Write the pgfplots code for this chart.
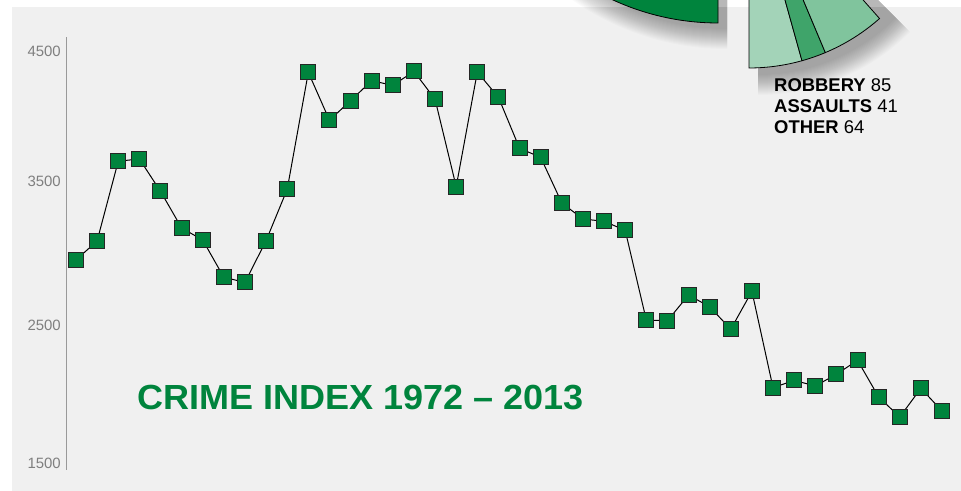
\documentclass[border=0pt]{standalone}
\usepackage{pgfplots}
\pgfplotsset{compat=1.18}
\usepackage{fontspec}
\setmainfont{Liberation Sans}
\definecolor{bg}{HTML}{F0F0F0}
\definecolor{mkgreen}{HTML}{00843D}
\definecolor{pieA}{HTML}{A3D3B8}
\definecolor{pieB}{HTML}{3FA46A}
\definecolor{pieC}{HTML}{80C49D}
\definecolor{ticktext}{HTML}{7F7F7F}
\begin{document}
\begin{tikzpicture}[x=1bp,y=1bp]
\useasboundingbox (0,0) rectangle (961,491);
\begin{scope}
\clip (0,0) rectangle (961,491);
\fill[bg] (12,0) rectangle (961,484);
% pie shadows (soft)
\foreach \k in {0,1,...,20} {
  \fill[black, opacity=0.014] (727,711) -- ++(-90:{249+\k}) arc[start angle=-90, end angle=-160, radius={249+\k}] -- cycle;
  \fill[black, opacity=0.014] (758,611) -- ++(-90:{195+\k}) arc[start angle=-90, end angle=-45, radius={195+\k}] -- cycle;
}
% pie wedges (cut off at top)
\filldraw[fill=mkgreen, draw=black, line width=0.8bp] (718,719) -- ++(-90:251) arc[start angle=-90, end angle=-160, radius=251] -- cycle;
\filldraw[fill=pieA, draw=black, line width=0.8bp] (749,620) -- ++(-90:197) arc[start angle=-90, end angle=-74.4, radius=197] -- cycle;
\filldraw[fill=pieB, draw=black, line width=0.8bp] (749,620) -- ++(-74.4:197) arc[start angle=-74.4, end angle=-67.2, radius=197] -- cycle;
\filldraw[fill=pieC, draw=black, line width=0.8bp] (749,620) -- ++(-67.2:197) arc[start angle=-67.2, end angle=-48.5, radius=197] -- cycle;
\end{scope}
\begin{axis}[
  at={(66bp,21bp)}, anchor=south west,
  scale only axis, width=895bp, height=433bp,
  xmin=1971.527, xmax=2013.9, ymin=1500, ymax=4500,
  clip=false,
  axis x line=none, axis y line*=left,
  y axis line style={draw=ticktext!80, line width=1bp, -},
  ytick={2500,3500}, major tick length=0pt,
  yticklabel style={font=\fontsize{15}{15}\selectfont, text=ticktext, inner sep=0pt, xshift=-5bp},
  /pgf/number format/1000 sep={},
  /pgf/number format/assume math mode=true,
]
\addplot[black, line width=1bp, mark=square*, mark size=7.5bp,
  mark options={fill=mkgreen, draw=black!85, line width=1bp}] coordinates {
(1972,2955) (1973,3087) (1974,3639) (1975,3655) (1976,3431) (1977,3177)
(1978,3093) (1979,2835) (1980,2800) (1981,3089) (1982,3445) (1983,4255)
(1984,3923) (1985,4059) (1986,4197) (1987,4165) (1988,4262) (1989,4068)
(1990,3463) (1991,4257) (1992,4082) (1993,3729) (1994,3666) (1995,3350)
(1996,3239) (1997,3223) (1998,3161) (1999,2539) (2000,2534) (2001,2712)
(2002,2631) (2003,2475) (2004,2738) (2005,2070) (2006,2121) (2007,2082)
(2008,2163) (2009,2260) (2010,2006) (2011,1867) (2012,2066) (2013,1909)
};
\node[anchor=east, inner sep=0pt, text=ticktext, font=\fontsize{15}{15}\selectfont]
  at ([xshift=-5bp, yshift=-14bp]axis cs:1971.527,4500) {4500};
\node[anchor=east, inner sep=0pt, text=ticktext, font=\fontsize{15}{15}\selectfont]
  at ([xshift=-5bp, yshift=7bp]axis cs:1971.527,1500) {1500};
\end{axis}
\node[anchor=base west, inner sep=0pt, text=mkgreen, font=\fontsize{35}{35}\selectfont\bfseries] at (137,81) {\scalebox{1.033}[1]{CRIME INDEX 1972 -- 2013}};
\node[anchor=base west, inner sep=0pt, font=\fontsize{18.5}{21}\selectfont] at (774,399) {\textbf{ROBBERY} 85};
\node[anchor=base west, inner sep=0pt, font=\fontsize{18.5}{21}\selectfont] at (774,378) {\textbf{ASSAULTS} 41};
\node[anchor=base west, inner sep=0pt, font=\fontsize{18.5}{21}\selectfont] at (774,357) {\textbf{OTHER} 64};
\end{tikzpicture}
\end{document}
